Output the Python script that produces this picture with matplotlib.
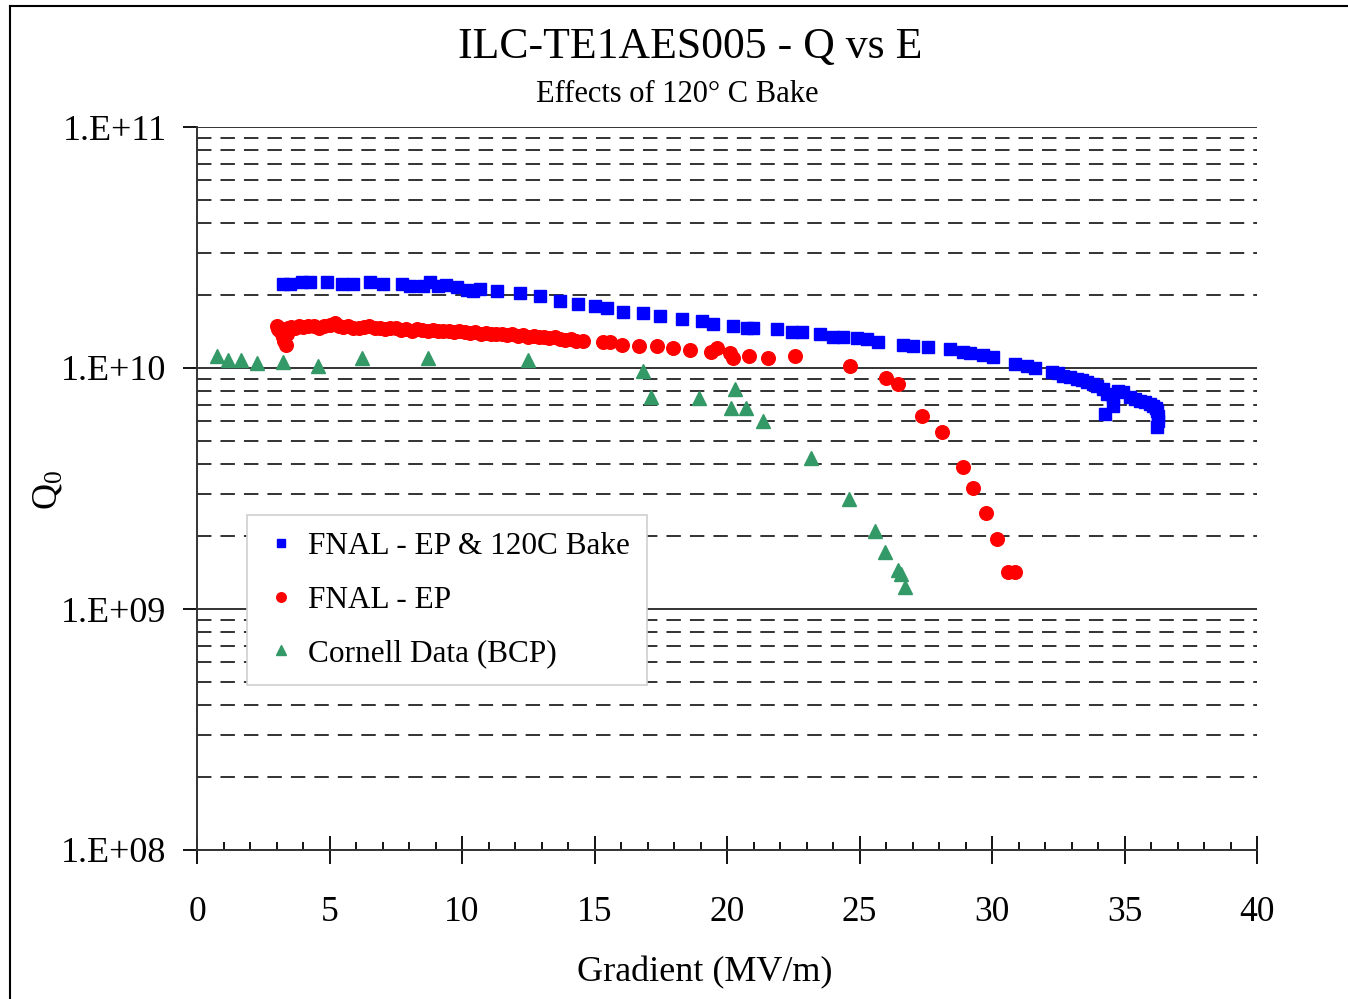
import numpy as np
import matplotlib
matplotlib.use("Agg")
import matplotlib.pyplot as plt
from matplotlib.lines import Line2D
from matplotlib.ticker import FixedLocator, LogLocator, NullFormatter

plt.rcParams['font.family'] = ['Liberation Serif', 'DejaVu Serif']
plt.rcParams['mathtext.fontset'] = 'custom'
plt.rcParams['mathtext.rm'] = 'Liberation Serif'

# FNAL - EP & 120C Bake (gradient MV/m, Q0 in units of 1e10)
bake_x = [3.25, 3.51, 3.96, 4.26, 4.91, 5.47, 5.89, 6.53, 7.02, 7.74,
          8.04, 8.53, 8.79, 9.09, 9.4, 9.81, 10.19, 10.42, 10.68, 11.32,
          12.19, 12.94, 13.70, 14.38, 15.02, 15.47, 16.08, 16.83, 17.47, 18.30,
          19.06, 19.47, 20.23, 20.75, 20.98, 21.89, 22.45, 22.83, 23.51, 24.0,
          24.38, 24.91, 25.28, 25.70, 26.64, 27.02, 27.58, 28.42, 28.91, 29.17,
          29.66, 30.04, 30.87, 31.32, 31.62, 32.26, 32.5, 32.68, 32.95, 33.21,
          33.4, 33.58, 33.8, 33.96, 34.19, 34.34, 34.26, 34.57, 34.57, 34.75,
          34.94, 35.2, 35.40, 35.6, 35.77, 35.95, 36.08, 36.2, 36.23, 36.26,
          36.26, 36.23]
bake_q = [2.23, 2.23, 2.27, 2.27, 2.27, 2.23, 2.23, 2.27, 2.23, 2.23,
          2.19, 2.19, 2.27, 2.19, 2.2, 2.17, 2.10, 2.08, 2.12, 2.08,
          2.04, 1.99, 1.89, 1.84, 1.80, 1.77, 1.70, 1.69, 1.64, 1.59,
          1.56, 1.52, 1.49, 1.46, 1.46, 1.45, 1.41, 1.41, 1.38, 1.35,
          1.35, 1.33, 1.32, 1.28, 1.25, 1.23, 1.22, 1.20, 1.16, 1.15,
          1.13, 1.11, 1.04, 1.02, 0.997, 0.96, 0.95, 0.924, 0.92, 0.898,
          0.89, 0.873, 0.86, 0.84, 0.817, 0.778, 0.642, 0.756, 0.693, 0.80,
          0.793, 0.76, 0.741, 0.73, 0.72, 0.71, 0.693, 0.68, 0.661, 0.63,
          0.60, 0.567]

# FNAL - EP
ep_x = [3.0, 3.05, 3.1, 3.15, 3.2, 3.25, 3.3, 3.35, 3.4, 3.45,
        3.55, 3.7, 3.85, 4.0, 4.2, 4.4, 4.6, 4.8, 5.0, 5.2,
        5.35, 5.5, 5.7, 5.9, 6.1, 6.3, 6.5, 6.7, 6.9, 7.1,
        7.3, 7.5, 7.7, 7.9, 8.1, 8.3, 8.5, 8.7, 8.9, 9.1,
        9.3, 9.5, 9.7, 9.9, 10.1, 10.3, 10.5, 10.7, 10.9, 11.1,
        11.3, 11.5, 11.7, 11.9, 12.1, 12.3, 12.5, 12.7, 12.9, 13.1,
        13.3, 13.5, 13.7, 13.9, 14.1, 14.3, 14.55,
        15.32, 15.58, 16.04, 16.68, 17.36, 17.96, 18.60, 19.40, 19.62, 20.11,
        20.23, 20.83, 21.55, 22.57, 24.64, 26.0, 26.45, 27.36, 28.11, 28.91,
        29.28, 29.77, 30.19, 30.60, 30.87]
ep_q = [1.50, 1.45, 1.47, 1.43, 1.40, 1.35, 1.30, 1.25, 1.38, 1.46,
        1.48, 1.47, 1.49, 1.48, 1.50, 1.49, 1.47, 1.49, 1.51, 1.53,
        1.50, 1.48, 1.49, 1.47, 1.46, 1.48, 1.49, 1.46, 1.47, 1.45,
        1.46, 1.46, 1.44, 1.45, 1.43, 1.45, 1.44, 1.43, 1.44, 1.42,
        1.43, 1.42, 1.41, 1.42, 1.41, 1.40, 1.41, 1.39, 1.40, 1.39,
        1.38, 1.39, 1.37, 1.38, 1.36, 1.37, 1.35, 1.36, 1.34, 1.35,
        1.33, 1.34, 1.32, 1.31, 1.32, 1.30, 1.29,
        1.28, 1.28, 1.25, 1.23, 1.23, 1.21, 1.19, 1.16, 1.21, 1.15,
        1.10, 1.12, 1.10, 1.12, 1.02, 0.907, 0.856, 0.630, 0.541, 0.387,
        0.319, 0.251, 0.196, 0.143, 0.143]

# Cornell Data (BCP)
cornell_x = [0.75, 1.17, 1.66, 2.26, 3.25, 4.57, 6.23, 8.72, 12.49, 16.83,
             17.13, 18.94, 20.30, 20.15, 20.72, 21.36, 23.17, 24.60, 25.58, 25.96,
             26.45, 26.55, 26.72]
cornell_q = [1.12, 1.08, 1.08, 1.05, 1.06, 1.02, 1.10, 1.10, 1.08, 0.969,
             0.756, 0.748, 0.816, 0.680, 0.680, 0.601, 0.422, 0.285, 0.210, 0.172,
             0.145, 0.140, 0.123]

ytick_vals = [1e8, 1e9, 1e10, 1e11]
ytick_labels = ['1.E+08', '1.E+09', '1.E+10', '1.E+11']
xtick_vals = [0, 5, 10, 15, 20, 25, 30, 35, 40]

W, H = 1348, 999
fig = plt.figure(figsize=(W / 100, H / 100), dpi=100)
ax = fig.add_axes([197 / W, 1 - 850 / H, (1257 - 197) / W, (850 - 127) / H])

ax.plot(bake_x, np.array(bake_q) * 1e10, ls='none', marker='s', ms=8.5,
        color='#0000ff', mec='#0000ff', label='FNAL - EP & 120C Bake', zorder=3)
ax.plot(ep_x, np.array(ep_q) * 1e10, ls='none', marker='o', ms=9.8,
        color='#ff0000', mec='#ff0000', label='FNAL - EP', zorder=3)
ax.plot(cornell_x, np.array(cornell_q) * 1e10, ls='none', marker='^', ms=10,
        color='#339966', mec='#339966', label='Cornell Data (BCP)', zorder=3)

ax.set_yscale('log')
ax.set_ylim(1e8, 1e11)
ax.set_xlim(0, 40)

ax.yaxis.set_major_locator(FixedLocator(ytick_vals))
ax.set_yticklabels(ytick_labels)
ax.yaxis.set_minor_locator(LogLocator(base=10, subs=np.arange(2, 10)))
ax.yaxis.set_minor_formatter(NullFormatter())
ax.tick_params(axis='y', which='major', direction='out', length=10, width=1.3,
               labelsize=26, pad=12)
ax.tick_params(axis='y', which='minor', length=0)

ax.set_xticks(xtick_vals)
ax.set_xticks(np.arange(0, 41, 1), minor=True)
ax.tick_params(axis='x', which='major', direction='inout', length=20, width=1.3,
               labelsize=25.5, pad=23)
ax.tick_params(axis='x', which='minor', direction='in', length=6, width=1.3)

ax.grid(which='major', axis='y', color='#333333', lw=1.4, ls='-', zorder=0)
ax.grid(which='minor', axis='y', color='#222222', lw=1.3, ls=(0, (8, 5)), zorder=0)
ax.set_axisbelow(True)

for side in ['top', 'right']:
    ax.spines[side].set_visible(False)
for side in ['left', 'bottom']:
    ax.spines[side].set_linewidth(1.4)
    ax.spines[side].set_color('#333333')

ax.set_xlabel('Gradient (MV/m)', fontsize=26)
ax.xaxis.set_label_coords((705 - 197) / 1060, -0.147)

fig.text(48 / W, 1 - 490 / H, r'$\mathregular{Q_0}$', rotation=90,
         ha='center', va='center', fontsize=26)

fig.text(690 / W, 1 - 47 / H, 'ILC-TE1AES005 - Q vs E', ha='center', va='center',
         fontsize=31.5)
fig.text(677 / W, 1 - 94 / H, 'Effects of 120° C Bake', ha='center', va='center',
         fontsize=22)

leg = ax.legend(loc='upper left', bbox_to_anchor=((247 - 197) / 1060, (850 - 515) / 723),
                borderaxespad=0, fontsize=22.5, frameon=True, fancybox=False,
                edgecolor='#d0d0d0', framealpha=1, markerscale=0.7,
                handlelength=1.1, handletextpad=0.3, labelspacing=0.78,
                borderpad=0.55)
leg.get_frame().set_linewidth(1.2)
leg.set_zorder(5)

# outer frame of the picture (left and top edges visible)
fig.add_artist(Line2D([10 / W, 10 / W], [0, 1 - 6 / H], color='black', lw=1.5))
fig.add_artist(Line2D([10 / W, 1], [1 - 6 / H, 1 - 6 / H], color='black', lw=1.5))

fig.savefig('out.png', dpi=100)
